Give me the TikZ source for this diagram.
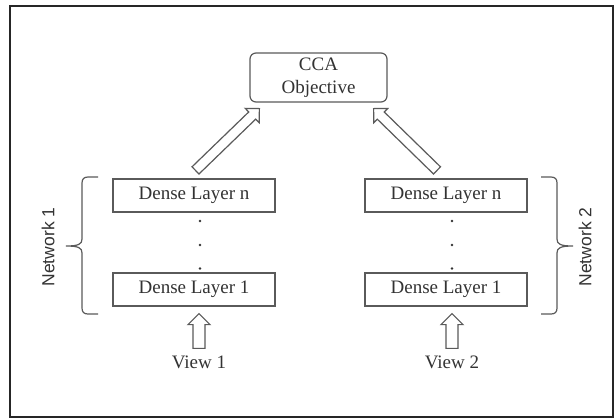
\documentclass[tikz,border=0pt]{standalone}
\usepackage{fontspec}
\setmainfont{Liberation Serif}
\newfontfamily\netfont{Liberation Sans}
\usetikzlibrary{calc}

\definecolor{boxgray}{HTML}{5A5A5A}
\definecolor{txtgray}{HTML}{333333}

% hollow block arrow: #1 tail, #2 tip, #3 half shaft width, #4 half head width, #5 head length
\newcommand\hollowarrow[5]{%
  \coordinate (ha-base) at ($(#2)!#5!(#1)$);
  \draw[arrowline]
    ($(#1)!#3!90:(#2)$) -- ($(ha-base)!#3!90:(#2)$) -- ($(ha-base)!#4!90:(#2)$)
    -- (#2)
    -- ($(ha-base)!#4!-90:(#2)$) -- ($(ha-base)!#3!-90:(#2)$) -- ($(#1)!#3!-90:(#2)$) -- cycle;
}

\tikzset{
  serif19/.style={font=\fontsize{19}{23}\selectfont, text=txtgray},
  layerbox/.style={serif19, draw=boxgray, line width=1.2pt, minimum width=162pt,
    minimum height=33pt, inner sep=0pt},
  objbox/.style={serif19, draw=boxgray, line width=1.2pt, rounded corners=6pt,
    minimum width=137pt, minimum height=49pt, inner sep=0pt, align=center},
  viewlabel/.style={serif19, inner sep=0pt},
  netlabel/.style={font=\netfont\fontsize{17.5}{20}\selectfont, text=txtgray,
    rotate=90, inner sep=0pt},
  dotmark/.style={circle, fill=txtgray, inner sep=0pt, minimum size=2.6pt},
  arrowline/.style={draw=boxgray, line width=1.2pt, fill=white, line join=miter},
  bracket/.style={draw=boxgray, line width=1.2pt},
  frameline/.style={draw=black!85, line width=2pt}
}

\begin{document}
\begin{tikzpicture}[x=1pt, y=-1pt]
  \useasboundingbox (0,0) rectangle (616,418);
  \fill[white] (0,0) rectangle (616,418);

  % outer frame
  \draw[frameline] (10,6) rectangle (613,417);

  % objective
  \node[objbox] (cca) at (318.5,77.5) {CCA\\Objective};

  % network 1
  \node[layerbox] (n1top) at (194,195.5) {Dense Layer n};
  \node[layerbox] (n1bot) at (194,289.5) {Dense Layer 1};
  \node[dotmark] (n1d1) at (200,221) {};
  \node[dotmark] (n1d2) at (200,245) {};
  \node[dotmark] (n1d3) at (200,268.5) {};

  % network 2
  \node[layerbox] (n2top) at (446,195.5) {Dense Layer n};
  \node[layerbox] (n2bot) at (446,289.5) {Dense Layer 1};
  \node[dotmark] (n2d1) at (452,221) {};
  \node[dotmark] (n2d2) at (452,245) {};
  \node[dotmark] (n2d3) at (452,268.5) {};

  % inputs
  \node[viewlabel] (view1) at (199,362) {View 1};
  \node[viewlabel] (view2) at (452,362) {View 2};

  % group labels
  \node[netlabel] (net1) at (48,247) {Network 1};
  \node[netlabel] (net2) at (585,247) {Network 2};

  % braces around each network
  \draw[bracket] (98,177) -- (88,177) .. controls (84,177) and (82,179) .. (82,183)
    -- (82,239) .. controls (82,244) and (79,246) .. (66,246)
    .. controls (79,246) and (82,248) .. (82,253)
    -- (82,308) .. controls (82,312) and (84,314) .. (88,314) -- (98,314);
  \draw[bracket] (541,177) -- (551,177) .. controls (555,177) and (557,179) .. (557,183)
    -- (557,239) .. controls (557,244) and (560,246) .. (573,246)
    .. controls (560,246) and (557,248) .. (557,253)
    -- (557,308) .. controls (557,312) and (555,314) .. (551,314) -- (541,314);

  % arrows from the top layers to the objective
  \coordinate (a1tail) at ($(n1top.north)+(1.5,-8)$);
  \coordinate (a1tip)  at ($(cca.south west)+(10,6)$);
  \coordinate (a2tail) at ($(n2top.north)+(-9,-8)$);
  \coordinate (a2tip)  at ($(cca.south east)+(-14,6)$);
  \hollowarrow{a1tail}{a1tip}{5pt}{10pt}{10pt}
  \hollowarrow{a2tail}{a2tip}{5pt}{10pt}{10pt}

  % arrows from the views to the first layers
  \coordinate (v1tail) at ($(view1.north)+(0,-7)$);
  \coordinate (v1tip)  at ($(n1bot.south)+(5,7)$);
  \coordinate (v2tail) at ($(view2.north)+(0,-7)$);
  \coordinate (v2tip)  at ($(n2bot.south)+(6,7)$);
  \hollowarrow{v1tail}{v1tip}{6pt}{11pt}{11pt}
  \hollowarrow{v2tail}{v2tip}{6pt}{11pt}{11pt}
\end{tikzpicture}
\end{document}
